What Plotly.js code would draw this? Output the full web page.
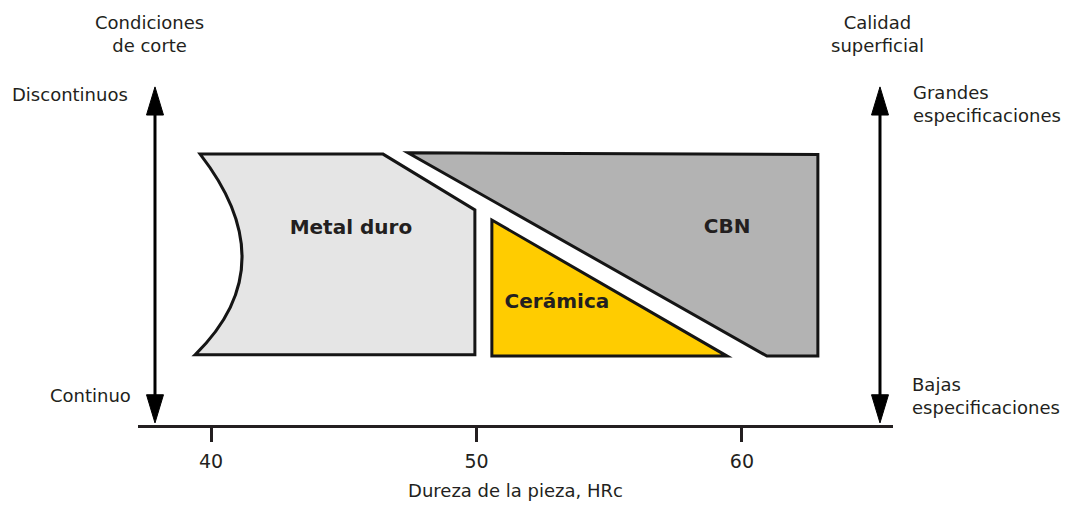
<!DOCTYPE html>
<html>
<head>
<meta charset="utf-8">
<script src="https://cdn.plot.ly/plotly-3.0.1.min.js"></script>
<style>
  html, body { margin: 0; padding: 0; background: #fff; }
  #grafico { width: 1068px; height: 506px; }
</style>
</head>
<body>
<div id="grafico"></div>
<script>
// Zonas de aplicación (x = dureza HRc, y = condiciones de corte 0..100)
const metalX = [39.59, 46.48, 49.94, 49.94, 39.40];
const metalY = [64.5, 64.5, 51.2, 16.7, 16.7];
const metalCurva = [42.84, 38.0]; // control del borde curvo izquierdo

const cbnX = [47.42, 62.86, 62.86, 60.94];
const cbnY = [64.8, 64.4, 16.4, 16.4];

const ceramicaX = [50.58, 50.58, 59.44];
const ceramicaY = [48.8, 16.4, 16.4];

const etiquetas = ["Metal duro", "CBN", "Cerámica"];
const etiquetasX = [45.27, 59.44, 53.03];
const etiquetasY = [46.7, 46.9, 29.0];

const ticksX = [40, 50, 60];

// flechas verticales (izquierda y derecha)
const flechasX = [37.89, 65.20];
const flechaArriba = 80.5;
const flechaAbajo = 0.5;

const tinta = "#231f20";
const fuente = "DejaVu Sans";

function camino(xs, ys) {
    let p = "M" + xs[0] + "," + ys[0];
    for (let i = 1; i < xs.length; i++) p += " L" + xs[i] + "," + ys[i];
    return p + " Z";
}

// borde izquierdo curvo del metal duro
let pathMetal = "M" + metalX[0] + "," + metalY[0];
for (let i = 1; i < metalX.length; i++) pathMetal += " L" + metalX[i] + "," + metalY[i];
pathMetal += " Q" + metalCurva[0] + "," + metalCurva[1] + " " + metalX[0] + "," + metalY[0] + " Z";

const borde = { color: "#151515", width: 3 };

const shapes = [
    { type: "path", layer: "below", xref: "x", yref: "y", path: pathMetal, fillcolor: "#e5e5e5", line: borde },
    { type: "path", layer: "below", xref: "x", yref: "y", path: camino(cbnX, cbnY), fillcolor: "#b3b3b3", line: borde },
    { type: "path", layer: "below", xref: "x", yref: "y", path: camino(ceramicaX, ceramicaY), fillcolor: "#ffcc00", line: borde }
];

// flechas con dos puntas
const medioAncho = 0.32; // en unidades HRc (~8.5 px)
const largoPunta = 6.7;  // en unidades y (~28 px)
flechasX.forEach(function (fx) {
    shapes.push({
        type: "line", xref: "x", yref: "y",
        x0: fx, x1: fx, y0: flechaAbajo + largoPunta - 1, y1: flechaArriba - largoPunta + 1,
        line: { color: "#000", width: 3 }
    });
    shapes.push({
        type: "path", xref: "x", yref: "y",
        path: camino([fx, fx - medioAncho, fx + medioAncho], [flechaArriba, flechaArriba - largoPunta, flechaArriba - largoPunta]),
        fillcolor: "#000", line: { color: "#000", width: 1 }
    });
    shapes.push({
        type: "path", xref: "x", yref: "y",
        path: camino([fx, fx - medioAncho, fx + medioAncho], [flechaAbajo, flechaAbajo + largoPunta, flechaAbajo + largoPunta]),
        fillcolor: "#000", line: { color: "#000", width: 1 }
    });
});

const textoFont = { family: fuente, size: 18, color: tinta };

// posiciones en fracción del área de trazado (fuera del rango de ejes)
const annotations = [
    { x: 0.015, y: 0.930, text: "Condiciones<br>de corte", xanchor: "center", align: "center" },
    { x: 0.979, y: 0.930, text: "Calidad<br>superficial", xanchor: "center", align: "center" },
    { x: -0.01, y: 0.788, text: "Discontinuos", xanchor: "right", align: "right" },
    { x: -0.007, y: 0.071, text: "Continuo", xanchor: "right", align: "right" },
    { x: 1.024, y: 0.764, text: "Grandes<br>especificaciones", xanchor: "left", align: "left" },
    { x: 1.023, y: 0.070, text: "Bajas<br>especificaciones", xanchor: "left", align: "left" }
].map(function (a) {
    return Object.assign({ xref: "paper", yref: "paper", yanchor: "middle", showarrow: false, font: textoFont }, a);
});

Plotly.newPlot("grafico", [
    {
        x: etiquetasX,
        y: etiquetasY,
        text: etiquetas,
        mode: "text",
        textposition: "middle center",
        textfont: { family: fuente, size: 20, color: tinta, weight: "bold" },
        hoverinfo: "skip",
        showlegend: false,
        cliponaxis: false
    }
], {
    width: 1068,
    height: 506,
    margin: { l: 138, r: 175, t: 5, b: 81 },
    paper_bgcolor: "#fff",
    plot_bgcolor: "#fff",
    showlegend: false,
    xaxis: {
        range: [37.25, 65.69],
        tickvals: ticksX,
        ticks: "outside",
        ticklen: 14,
        tickwidth: 3,
        tickcolor: tinta,
        ticklabelstandoff: 3,
        tickfont: { family: fuente, size: 19, color: tinta },
        showline: true,
        linecolor: tinta,
        linewidth: 3,
        showgrid: false,
        zeroline: false,
        fixedrange: true,
        title: { text: "Dureza de la pieza, HRc", font: { family: fuente, size: 18, color: tinta }, standoff: 14 }
    },
    yaxis: {
        range: [0, 100],
        visible: false,
        fixedrange: true
    },
    shapes: shapes,
    annotations: annotations
}, { displayModeBar: false, staticPlot: true });
</script>
</body>
</html>
